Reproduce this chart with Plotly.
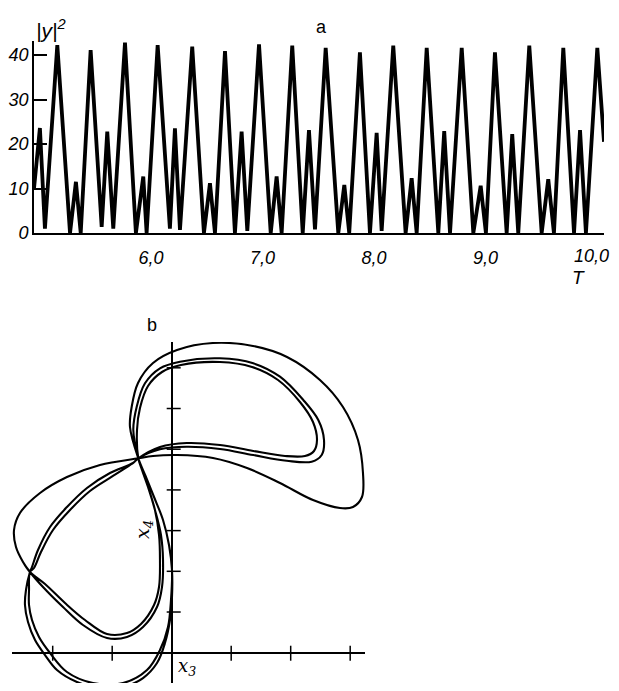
import plotly.graph_objects as go

# ---------------- panel a : |y|^2 versus T ----------------
T_vals = [4.951, 5.004, 5.049, 5.160, 5.274, 5.327, 5.370, 5.459, 5.558, 5.608,
          5.662, 5.767, 5.865, 5.931, 5.961, 6.060, 6.170, 6.215, 6.260, 6.370,
          6.475, 6.529, 6.574, 6.664, 6.753, 6.813, 6.864, 6.969, 7.074, 7.127,
          7.172, 7.267, 7.361, 7.417, 7.471, 7.567, 7.680, 7.734, 7.778, 7.874,
          7.964, 8.024, 8.069, 8.173, 8.284, 8.338, 8.383, 8.473, 8.577, 8.630,
          8.682, 8.787, 8.891, 8.957, 9.004, 9.085, 9.190, 9.240, 9.294, 9.393,
          9.504, 9.563, 9.614, 9.698, 9.794, 9.848, 9.901, 10.003, 10.063]
Y2_vals = [10, 23.6, 1, 42.2, 0, 11.5, 0, 41.1, 1.4, 22.8,
           1, 42.8, 0, 12.7, 0, 42.2, 1, 23.5, 0.7, 41.9,
           0, 11.2, 0, 40.9, 0, 22.8, 0.5, 42.4, 0, 12.7,
           0, 42.1, 0, 23.1, 0.8, 41.6, 0, 10.8, 0, 40.6,
           0, 22.5, 0.5, 42.1, 0, 12.3, 0, 41.6, 0, 22.9,
           0, 41.6, 0, 10.6, 0, 40.6, 0, 22.2, 0, 42.1,
           0, 12.1, 0, 41.6, 0, 23.1, 0, 41.6, 20.5]
a_xticks = [6, 7, 8, 9, 10]
a_xticktext = ["6,0", "7,0", "8,0", "9,0", "10,0"]
a_yticks = [0, 10, 20, 30, 40]
a_yticktext = ["0", "10", "20", "30", "40"]

# ---------------- panel b : phase portrait x3, x4 ----------------
P = (-0.561, 4.776)
outer_up_x3 = [-0.701, -0.672, -0.566, -0.314, 0.089, 0.694, 1.366, 1.938, 2.492, 2.879,
               3.131, 3.215, 3.198, 3.047, 2.829, 2.375, 1.820, 1.266, 0.694, 0.089, -0.314, -0.561]
outer_up_x4 = [5.545, 6.044, 6.627, 7.118, 7.437, 7.609, 7.536, 7.265, 6.700, 6.037,
               5.226, 4.415, 3.826, 3.580, 3.555, 3.752, 4.170, 4.538, 4.784, 4.857, 4.833, 4.776]

inner_up_a_x3 = [-0.645, -0.588, -0.449, -0.197, 0.139, 0.812, 1.371, 1.820, 2.212, 2.464,
                 2.560, 2.521, 2.353, 1.933, 1.371, 0.812, 0.252, -0.197, -0.561]
inner_up_a_x4 = [5.472, 6.044, 6.619, 6.988, 7.150, 7.233, 7.111, 6.781, 6.209, 5.717,
                 5.226, 4.857, 4.693, 4.717, 4.857, 5.005, 5.061, 4.998, 4.776]
inner_up_b_x3 = [-0.583, -0.533, -0.398, -0.163, 0.156, 0.812, 1.350, 1.787, 2.156, 2.375,
                 2.442, 2.392, 2.240, 1.904, 1.371, 0.812, 0.252, -0.197, -0.561]
inner_up_b_x4 = [5.472, 6.012, 6.553, 6.897, 7.069, 7.143, 7.020, 6.700, 6.160, 5.668,
                 5.226, 4.956, 4.833, 4.833, 4.956, 5.103, 5.152, 5.054, 4.776]

left_a_x3 = [-1.205, -1.760, -2.213, -2.550, -2.650, -2.617, -2.499, -2.382, -2.163, -1.827,
             -1.491, -1.087, -0.751, -0.482, -0.247, -0.163, -0.146, -0.180, -0.281, -0.398,
             -0.499, -0.561]
left_a_x4 = [4.612, 4.317, 3.924, 3.432, 3.015, 2.597, 2.229, 1.983, 1.614, 1.123,
             0.681, 0.361, 0.386, 0.631, 1.123, 1.614, 2.278, 2.892, 3.506, 4.071,
             4.489, 4.776]
left_b_x3 = [-1.205, -1.760, -2.213, -2.550, -2.650, -2.617, -2.499, -2.382, -2.129, -1.793,
             -1.457, -1.087, -0.751, -0.516, -0.297, -0.213, -0.197, -0.213, -0.281, -0.398,
             -0.499, -0.561]
left_b_x4 = [4.612, 4.317, 3.924, 3.432, 3.015, 2.597, 2.229, 1.983, 1.688, 1.221,
             0.803, 0.459, 0.484, 0.705, 1.172, 1.614, 2.278, 2.892, 3.506, 4.071,
             4.489, 4.776]

bottom_a_x3 = [-0.650, -1.037, -1.424, -1.760, -2.045, -2.247, -2.348, -2.382, -2.449, -2.466,
               -2.415, -2.297, -2.129, -1.928, -1.592, -1.205, -0.818, -0.482, -0.247, -0.113,
               -0.029, 0.005, 0.005, -0.045, -0.146, -0.297, -0.432, -0.561]
bottom_a_x4 = [4.661, 4.415, 4.047, 3.580, 3.088, 2.523, 2.106, 1.983, 1.541, 1.172,
               0.754, 0.312, -0.057, -0.425, -0.720, -0.867, -0.843, -0.622, -0.253, 0.238,
               0.803, 1.369, 2.032, 2.646, 3.260, 3.826, 4.317, 4.776]
bottom_b_x3 = [-0.650, -0.987, -1.373, -1.709, -1.995, -2.197, -2.314, -2.382, -2.398, -2.398,
               -2.348, -2.230, -2.045, -1.760, -1.323, -0.818, -0.415, -0.197, -0.062, -0.012,
               0.005, -0.045, -0.146, -0.297, -0.432, -0.561]
bottom_b_x4 = [4.661, 4.342, 3.973, 3.506, 3.015, 2.474, 2.081, 1.983, 1.541, 1.172,
               0.803, 0.386, -0.007, -0.474, -0.744, -0.744, -0.425, 0.066, 0.631, 1.295,
               2.032, 2.646, 3.260, 3.826, 4.317, 4.776]

b_x3_ticks = [-2, -1, 1, 2, 3]
b_x4_ticks = [1, 2, 3, 4, 5, 6, 7]

# trajectory: the loops joined through their common crossing point
path_x3 = ([P[0]] + outer_up_x3 + left_a_x3 + inner_up_a_x3 + bottom_a_x3
           + outer_up_x3 + left_b_x3 + inner_up_b_x3 + bottom_b_x3)
path_x4 = ([P[1]] + outer_up_x4 + left_a_x4 + inner_up_a_x4 + bottom_a_x4
           + outer_up_x4 + left_b_x4 + inner_up_b_x4 + bottom_b_x4)

# page is 619x691; the default 8px body margin surrounds the figure
M = 8
W, H = 619 - 2 * M, 691 - 2 * M


def X(px):
    return (px - M) / W


def Y(py):
    return 1 - (py - M) / H


fig = go.Figure()
fig.add_trace(go.Scatter(x=T_vals, y=Y2_vals, mode="lines",
                         line=dict(color="black", width=3.8),
                         xaxis="x", yaxis="y", showlegend=False, hoverinfo="skip"))
fig.add_trace(go.Scatter(x=path_x3, y=path_x4, mode="lines",
                         line=dict(color="black", width=2.1, shape="spline", smoothing=1.0),
                         xaxis="x2", yaxis="y2", showlegend=False, hoverinfo="skip"))

tickfont = dict(family="Liberation Sans", size=18, color="black", style="italic")

# the last tick label sits at the page edge, so it is drawn right-aligned there
shown_xticktext = a_xticktext[:-1] + [""]

fig.update_layout(
    template="none",
    width=W, height=H,
    margin=dict(l=0, r=0, t=0, b=0, pad=0, autoexpand=False),
    paper_bgcolor="white", plot_bgcolor="white",
    xaxis=dict(domain=[X(34), X(604)], range=[4.951, 10.063], automargin=False,
               showgrid=False, zeroline=False, showline=True, linecolor="black", linewidth=1.6,
               tickvals=a_xticks, ticktext=shown_xticktext, ticks="", ticklabeloverflow="allow",
               tickfont=tickfont, ticklabelstandoff=8, anchor="y"),
    yaxis=dict(domain=[Y(233), Y(41)], range=[0, 43.15], automargin=False,
               showgrid=False, zeroline=False, showline=True, linecolor="black", linewidth=1.6,
               tickvals=a_yticks, ticktext=a_yticktext, ticks="inside", ticklen=13,
               tickwidth=1.6, tickcolor="black", tickfont=tickfont, anchor="x",
               ticklabeloverflow="allow"),
    xaxis2=dict(domain=[X(12), X(365)], range=[-2.684, 3.249], automargin=False,
                showgrid=False, showline=False, showticklabels=False, ticks="",
                zeroline=True, zerolinecolor="black", zerolinewidth=1.5, anchor="y2"),
    yaxis2=dict(domain=[0, Y(342)], range=[-0.744, 7.634], automargin=False,
                showgrid=False, showline=False, showticklabels=False, ticks="",
                zeroline=True, zerolinecolor="black", zerolinewidth=1.5, anchor="x2"),
)

shapes = []
for v in b_x3_ticks:
    shapes.append(dict(type="line", xref="x2", yref="y2", x0=v, x1=v,
                       ysizemode="pixel", yanchor=0, y0=-8, y1=7,
                       line=dict(color="black", width=1.5)))
for v in b_x4_ticks:
    shapes.append(dict(type="line", xref="x2", yref="y2", y0=v, y1=v,
                       xsizemode="pixel", xanchor=0, x0=-5, x1=9,
                       line=dict(color="black", width=1.5)))
fig.update_layout(shapes=shapes)

ann = [
    dict(text="|y|<sup>2</sup>", x=X(51), y=Y(29), font=dict(family="Liberation Sans", size=21, style="italic")),
    dict(text="a", x=X(321), y=Y(27), font=dict(family="Liberation Sans", size=18)),
    dict(text="T", x=X(578), y=Y(277), font=dict(family="Liberation Sans", size=19, style="italic")),
    dict(text="b", x=X(152), y=Y(325), font=dict(family="Liberation Sans", size=18)),
    dict(text="x<sub>4</sub>", x=X(143), y=Y(530), textangle=-90,
         font=dict(family="DejaVu Serif", size=19, style="italic")),
    dict(text="x<sub>3</sub>", x=X(187), y=Y(667),
         font=dict(family="DejaVu Serif", size=18, style="italic")),
    dict(text=a_xticktext[-1], x=1.0, y=Y(256), xanchor="right",
         font=dict(family="Liberation Sans", size=18, style="italic")),
]
for a in ann:
    a.update(xref="paper", yref="paper", showarrow=False, yanchor="middle")
    a.setdefault("xanchor", "center")
    a["font"]["color"] = "black"
fig.update_layout(annotations=ann)

fig.write_html("out.html", config={"displayModeBar": False})
